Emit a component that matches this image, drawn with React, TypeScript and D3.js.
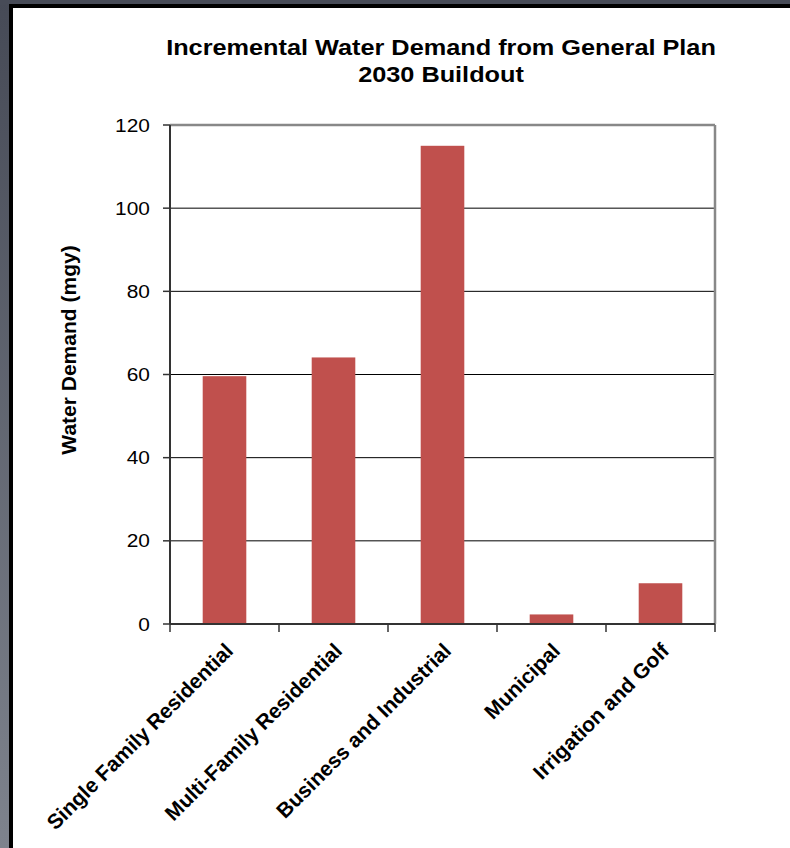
import React from "react";
import * as d3 from "d3";

const categories = [
  "Single Family Residential",
  "Multi-Family Residential",
  "Business and Industrial",
  "Municipal",
  "Irrigation and Golf",
];
const values = [59.6, 64.1, 115, 2.3, 9.8];
const yTicks = [0, 20, 40, 60, 80, 100, 120];
const titleLines = ["Incremental Water Demand from General Plan", "2030 Buildout"];
const yLabel = "Water Demand (mgy)";

const W = 790;
const H = 848;
const left = 170;
const right = 715;
const top = 125;
const bottom = 624;

export default function App() {
  const x = d3.scaleBand<string>().domain(categories).range([left, right]).paddingInner(0.6).paddingOuter(0.3);
  const xb = d3.scaleBand<string>().domain(categories).range([left, right]);
  const y = d3.scaleLinear().domain([0, 120]).range([bottom, top]);
  const font = "Liberation Sans, Arial, sans-serif";
  return (
    <svg width={W} height={H} style={{ position: "absolute", left: 0, top: 0 }} fontFamily={font}>
      <defs>
        <linearGradient id="frame" x1="0" y1="0" x2="0" y2="1">
          <stop offset="0" stopColor="#464a56" />
          <stop offset="1" stopColor="#7e838d" />
        </linearGradient>
      </defs>
      <rect x={0} y={0} width={W} height={H} fill="url(#frame)" />
      <rect x={0} y={0} width={W} height={5} fill="#474b57" />
      <rect x={9} y={4} width={W} height={H} fill="#000" />
      <rect x={13} y={8} width={W} height={H} fill="#fff" />

      <g transform="translate(441,0) scale(1.15,1)">
        <text x={0} y={55} textAnchor="middle" fontWeight="bold" fontSize={22}>{titleLines[0]}</text>
        <text x={0} y={82} textAnchor="middle" fontWeight="bold" fontSize={22}>{titleLines[1]}</text>
      </g>

      {yTicks.map((t) => (
        <g key={t}>
          {t > 0 && t < 120 && <line x1={left} x2={right} y1={y(t)} y2={y(t)} stroke="#000" strokeWidth={1} />}
          <line x1={left - 7} x2={left} y1={y(t)} y2={y(t)} stroke="#333" strokeWidth={1.5} />
          <g transform={`translate(${left - 20},${y(t)}) scale(1.1,1)`}>
            <text x={0} y={0} dy="0.35em" textAnchor="end" fontSize={19}>{t}</text>
          </g>
        </g>
      ))}

      {categories.map((c, i) => (
        <rect key={c} x={x(c)} y={y(values[i])} width={x.bandwidth()} height={bottom - y(values[i])} fill="#c0504d" />
      ))}

      <line x1={left} x2={right} y1={top} y2={top} stroke="#888" strokeWidth={2.5} />
      <line x1={right} x2={right} y1={top} y2={bottom} stroke="#888" strokeWidth={2.5} />
      <line x1={left} x2={left} y1={top} y2={bottom} stroke="#333" strokeWidth={2} />
      <line x1={left} x2={right} y1={bottom} y2={bottom} stroke="#333" strokeWidth={2} />

      {categories.map((c, i) => (
        <line key={"t" + i} x1={xb(c)} x2={xb(c)} y1={bottom} y2={bottom + 8} stroke="#333" strokeWidth={1.5} />
      ))}
      <line x1={right} x2={right} y1={bottom} y2={bottom + 8} stroke="#333" strokeWidth={1.5} />

      {categories.map((c) => {
        const cx = (xb(c) ?? 0) + xb.bandwidth() / 2 + 10;
        const cy = bottom + 28;
        return (
          <text key={"l" + c} transform={`translate(${cx},${cy}) rotate(-45)`} textAnchor="end" fontWeight="bold" fontSize={21}>{c}</text>
        );
      })}

      <text transform={`translate(76,350) rotate(-90)`} textAnchor="middle" fontWeight="bold" fontSize={21}>{yLabel}</text>
    </svg>
  );
}
